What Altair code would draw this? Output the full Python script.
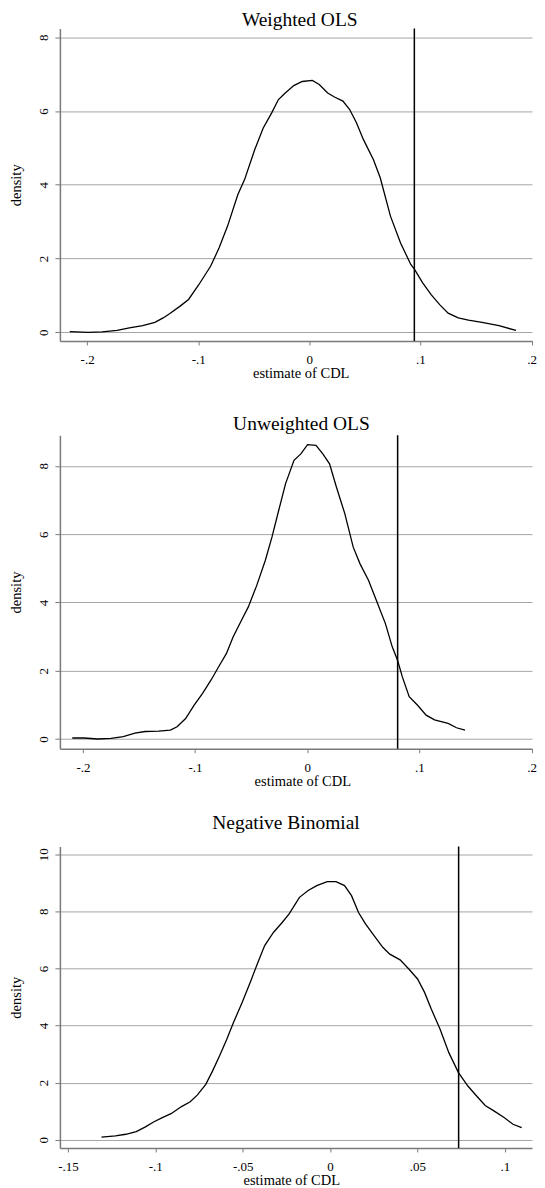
import altair as alt
import pandas as pd

FONT = "Liberation Serif"

titles = ["Weighted OLS", "Unweighted OLS", "Negative Binomial"]
x_title = "estimate of CDL"
y_title = "density"

# Weighted OLS density
w_x = [-0.2156, -0.199, -0.1866, -0.173, -0.162, -0.150, -0.139, -0.1316, -0.1255, -0.1163,
       -0.1087, -0.0995, -0.0889, -0.0812, -0.0736, -0.0644, -0.0583, -0.0492, -0.0415, -0.0339,
       -0.0278, -0.0217, -0.0140, -0.0064, 0.0027, 0.0089, 0.0165, 0.0226, 0.0302, 0.0363,
       0.0424, 0.0486, 0.0577, 0.0638, 0.0730, 0.0821, 0.0913, 0.0944, 0.102, 0.1096,
       0.1173, 0.1249, 0.134, 0.1432, 0.1554, 0.1707, 0.186]
w_d = [0.02, 0.0, 0.01, 0.05, 0.12, 0.18, 0.27, 0.39, 0.51, 0.71,
       0.89, 1.29, 1.79, 2.29, 2.88, 3.73, 4.14, 4.95, 5.54, 5.95,
       6.31, 6.49, 6.69, 6.80, 6.83, 6.72, 6.49, 6.38, 6.27, 6.04,
       5.68, 5.23, 4.68, 4.19, 3.15, 2.42, 1.84, 1.72, 1.34, 1.02,
       0.75, 0.52, 0.39, 0.33, 0.27, 0.18, 0.05]

# Unweighted OLS density
u_x = [-0.2095, -0.199, -0.187, -0.175, -0.164, -0.1536, -0.1446, -0.1325, -0.122, -0.116,
       -0.1084, -0.1008, -0.0933, -0.0857, -0.0782, -0.0721, -0.0661, -0.0586, -0.0525, -0.0450,
       -0.0374, -0.0314, -0.0254, -0.0193, -0.0118, -0.0057, 0.0003, 0.0078, 0.0139, 0.0199,
       0.026, 0.0335, 0.041, 0.0471, 0.0546, 0.0622, 0.0697, 0.0758, 0.0806, 0.0848,
       0.0909, 0.0984, 0.106, 0.1135, 0.1256, 0.1331, 0.1407]
u_d = [0.03, 0.03, 0.0, 0.02, 0.07, 0.17, 0.22, 0.23, 0.26, 0.36,
       0.60, 0.99, 1.34, 1.73, 2.16, 2.50, 2.99, 3.48, 3.87, 4.50,
       5.23, 5.92, 6.70, 7.48, 8.16, 8.35, 8.62, 8.60, 8.35, 8.06,
       7.38, 6.60, 5.62, 5.13, 4.65, 4.01, 3.38, 2.70, 2.30, 1.82,
       1.24, 0.99, 0.70, 0.56, 0.46, 0.33, 0.26]

# Negative Binomial density
n_x = [-0.1308, -0.1228, -0.1169, -0.1109, -0.1059, -0.1010, -0.096, -0.091, -0.085, -0.080,
       -0.076, -0.0711, -0.0672, -0.0632, -0.0592, -0.0552, -0.0503, -0.0453, -0.0413, -0.0374,
       -0.0324, -0.0274, -0.0234, -0.0175, -0.0125, -0.0076, -0.0016, 0.0034, 0.0083, 0.0123,
       0.0163, 0.0203, 0.0252, 0.0302, 0.0342, 0.0401, 0.0451, 0.0501, 0.0541, 0.0580,
       0.0630, 0.0680, 0.0735, 0.0789, 0.0839, 0.0888, 0.0938, 0.0998, 0.1047, 0.1097]
n_d = [0.09, 0.13, 0.19, 0.28, 0.44, 0.62, 0.77, 0.91, 1.16, 1.33,
       1.56, 1.94, 2.41, 2.94, 3.50, 4.11, 4.81, 5.57, 6.21, 6.80,
       7.26, 7.61, 7.91, 8.49, 8.73, 8.90, 9.04, 9.04, 8.90, 8.55,
       7.96, 7.56, 7.15, 6.74, 6.50, 6.30, 5.98, 5.63, 5.16, 4.57,
       3.87, 3.05, 2.35, 1.88, 1.53, 1.20, 1.01, 0.77, 0.54, 0.42]

v_lines = [0.0945, 0.0806, 0.0736]

x_ticks_ols = [-0.2, -0.1, 0, 0.1, 0.2]
x_labels_ols = ["-.2", "-.1", "0", ".1", ".2"]
x_ticks_nb = [-0.15, -0.1, -0.05, 0, 0.05, 0.1]
x_labels_nb = ["-.15", "-.1", "-.05", "0", ".05", ".1"]
y_ticks_ols = [0, 2, 4, 6, 8]
y_ticks_nb = [0, 2, 4, 6, 8, 10]


def label_expr(ticks, labels):
    expr = "''"
    for t, l in reversed(list(zip(ticks, labels))):
        expr = f"abs(datum.value - ({t})) < 1e-9 ? '{l}' : {expr}"
    return expr


def panel(xs, ds, vline, title, xdom, ydom, xticks, xlabels, yticks, width, height,
          toff, tdx, xtx):
    df = pd.DataFrame({"x": xs, "d": ds})
    xscale = alt.Scale(domain=xdom, nice=False, zero=False)
    yscale = alt.Scale(domain=ydom, nice=False, zero=False)
    xaxis = alt.Axis(values=xticks, labelExpr=label_expr(xticks, xlabels), title=x_title,
                     grid=False, tickSize=4, labelPadding=14.5, labelBaseline="middle",
                     labelFlush=False, labelOverlap=False, titleX=xtx, titleY=33,
                     titleBaseline="middle", titleAlign="center")
    yaxis = alt.Axis(values=yticks, title=y_title, grid=True, tickSize=5, labelAngle=270,
                     labelAlign="center", labelBaseline="middle", labelPadding=11,
                     labelFlush=False, labelOverlap=False,
                     titleX=-43.5, titleY=height / 2, titleAngle=270, titleBaseline="middle",
                     titleAlign="center")
    line = alt.Chart(df).mark_line(color="black", strokeWidth=1.3, clip=True).encode(
        x=alt.X("x:Q", scale=xscale, axis=xaxis),
        y=alt.Y("d:Q", scale=yscale, axis=yaxis),
    )
    rule = alt.Chart(pd.DataFrame({"x": [vline]})).mark_rule(color="black", strokeWidth=1.5).encode(
        x=alt.X("x:Q", scale=xscale, axis=xaxis)
    )
    return alt.layer(line, rule).properties(
        width=width, height=height,
        title=alt.TitleParams(title, fontSize=19.5, font=FONT, fontWeight="normal", anchor="middle",
                              frame="group", offset=toff, dx=tdx, baseline="alphabetic",
                              color="black"),
    )


p1 = panel(w_x, w_d, v_lines[0], titles[0], [-0.2245, 0.2004], [-0.235, 8.235],
           x_ticks_ols, x_labels_ols, y_ticks_ols, 473, 313, -17.5, 3.8, 241.3)
p2 = panel(u_x, u_d, v_lines[1], titles[1], [-0.2205, 0.2004], [-0.284, 8.895],
           x_ticks_ols, x_labels_ols, y_ticks_ols, 473, 314, -14.5, 5.5, 242.9)
p3 = panel(n_x, n_d, v_lines[2], titles[2], [-0.1546, 0.1156], [-0.29, 10.27],
           x_ticks_nb, x_labels_nb, y_ticks_nb, 473, 302, -2.5, -10, 231.8)

top = alt.vconcat(p1, p2, spacing=32.5)
chart = alt.vconcat(top, p3, spacing=24.5).properties(
    padding={"left": 0, "top": 0.5, "right": 0, "bottom": 0}
).configure_view(
    stroke=None
).configure_axis(
    labelFont=FONT, titleFont=FONT, labelFontSize=13, titleFontSize=14.5,
    labelColor="black", titleColor="black", titleFontWeight="normal",
    domainColor="#7a7a7a", domainWidth=1.5, tickColor="#7a7a7a", tickWidth=1,
    gridColor="#a6a6a6", gridWidth=1,
)

chart.save("out.html", embed_options={"renderer": "svg", "actions": False})
